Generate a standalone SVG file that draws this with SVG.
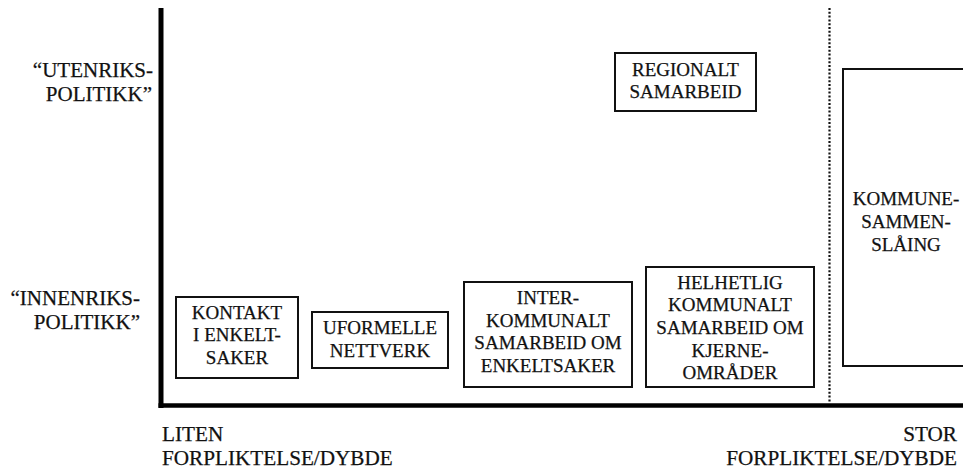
<svg xmlns="http://www.w3.org/2000/svg" width="963" height="470" viewBox="0 0 963 470">
<style>
text{font-family:'Liberation Serif',serif;fill:#111;stroke:#111;stroke-width:0.25;}
.b{font-size:19px;text-anchor:middle;}
.l{font-size:21px;text-anchor:end;}
.x{font-size:21.2px;}
.box{fill:#fff;stroke:#111;stroke-width:2;}
</style>
<rect width="963" height="470" fill="#fff"/>
<g id="axes">
<line x1="161" y1="8" x2="161" y2="408" stroke="#000" stroke-width="5"/>
<line x1="158.5" y1="405.5" x2="963" y2="405.5" stroke="#000" stroke-width="4.5"/>
<line x1="829.5" y1="8" x2="829.5" y2="402" stroke="#111" stroke-width="2.2" stroke-dasharray="2,1.8"/>
</g>
<g id="axis-labels">
<text class="l" x="153" y="77">“UTENRIKS-</text>
<text class="l" x="152" y="101">POLITIKK”</text>
<text class="l" x="140" y="305">“INNENRIKS-</text>
<text class="l" x="140" y="329">POLITIKK”</text>
<text class="x" x="162" y="441">LITEN</text>
<text class="x" x="162" y="465">FORPLIKTELSE/DYBDE</text>
<text class="x" x="957" y="441" text-anchor="end">STOR</text>
<text class="x" x="957" y="465" text-anchor="end">FORPLIKTELSE/DYBDE</text>
</g>
<g id="connectors"></g>
<g id="regionalt">
<rect class="box" x="615" y="53" width="141" height="58"/>
<text class="b" x="685.5" y="76">REGIONALT</text>
<text class="b" x="685.5" y="98">SAMARBEID</text>
</g>
<g id="kommunesammenslaing">
<rect class="box" x="843" y="69" width="130" height="297"/>
<text class="b" x="906" y="205">KOMMUNE-</text>
<text class="b" x="906" y="228">SAMMEN-</text>
<text class="b" x="906" y="251">SLÅING</text>
</g>
<g id="kontakt">
<rect class="box" x="176" y="297" width="122" height="81"/>
<text class="b" x="237" y="319">KONTAKT</text>
<text class="b" x="237" y="341">I ENKELT-</text>
<text class="b" x="237" y="364">SAKER</text>
</g>
<g id="uformelle">
<rect class="box" x="312" y="312" width="136" height="56"/>
<text class="b" x="380" y="334">UFORMELLE</text>
<text class="b" x="380" y="357">NETTVERK</text>
</g>
<g id="interkommunalt">
<rect class="box" x="464" y="282" width="168" height="105"/>
<text class="b" x="548" y="304">INTER-</text>
<text class="b" x="548" y="326.5">KOMMUNALT</text>
<text class="b" x="548" y="349">SAMARBEID OM</text>
<text class="b" x="548" y="371.5">ENKELTSAKER</text>
</g>
<g id="helhetlig">
<rect class="box" x="646" y="267" width="168" height="120"/>
<text class="b" x="730" y="289">HELHETLIG</text>
<text class="b" x="730" y="311">KOMMUNALT</text>
<text class="b" x="730" y="334">SAMARBEID OM</text>
<text class="b" x="730" y="357">KJERNE-</text>
<text class="b" x="730" y="379">OMRÅDER</text>
</g>
</svg>
